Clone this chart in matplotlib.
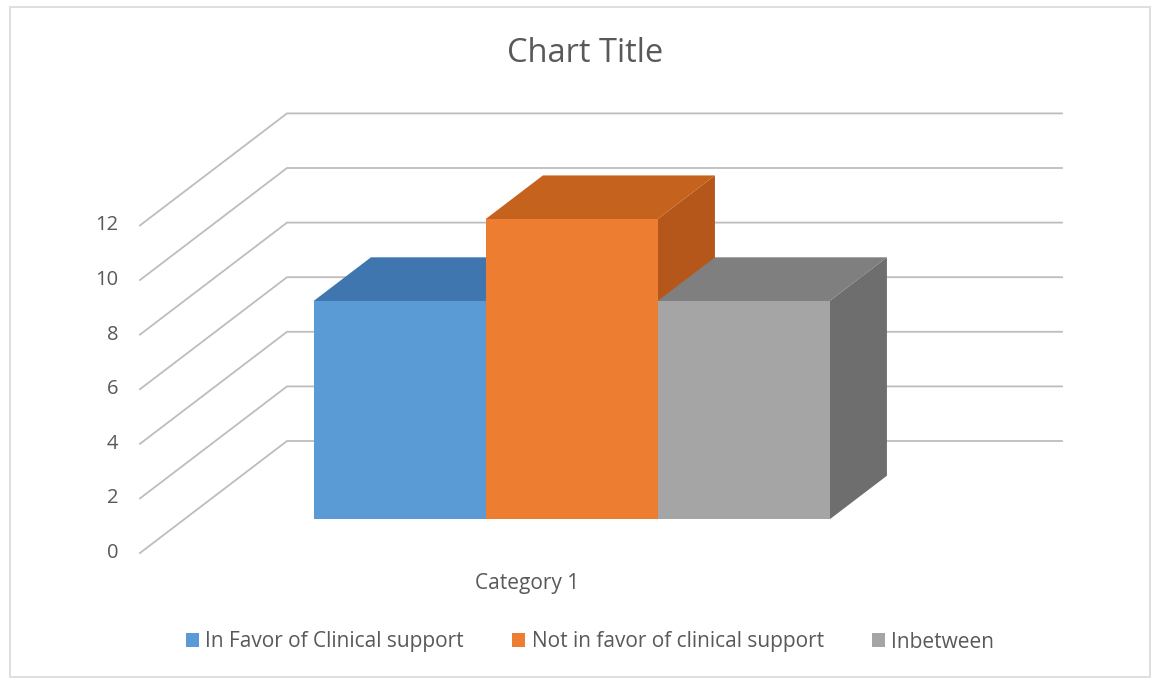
import matplotlib.pyplot as plt
from matplotlib.patches import Polygon, Rectangle, Patch

# chart data
title = "Chart Title"
category = "Category 1"
series = ["In Favor of Clinical support", "Not in favor of clinical support", "Inbetween"]
values = [8, 11, 8]
y_ticks = [0, 2, 4, 6, 8, 10, 12]

front_colors = ["#5B9BD5", "#ED7D31", "#A5A5A5"]
top_colors = ["#3F76B0", "#C5621D", "#7F7F7F"]
side_colors = ["#35679D", "#B5561A", "#6E6E6E"]
text_color = "#595959"
grid_color = "#BDBDBD"

plt.rcParams['font.family'] = ['Open Sans', 'DejaVu Sans']

# oblique projection of the 3d column chart (units are pixels)
X0, Y0 = 140, 553          # front end of the value axis at 0
UNIT = 27.3                # pixels per value unit
DEPTH = (147, -112)        # shift from front to back wall
WALL_W = 775               # width of the back wall
BAR_W = 172
BAR_D0, BAR_D1 = 0.30, 0.69  # depth range of the columns


def proj(u, v, d):
    return (X0 + u + DEPTH[0] * d, Y0 - UNIT * v + DEPTH[1] * d)


fig = plt.figure(figsize=(11.57, 6.79), dpi=100)
ax = fig.add_axes([0, 0, 1, 1])
ax.set_xlim(0, 1157)
ax.set_ylim(679, 0)
ax.axis('off')

# chart border
ax.add_patch(Rectangle((10, 7), 1140, 670, fill=False, ec="#D9D9D9", lw=1.2))

# side wall + back wall gridlines
for t in y_ticks:
    pts = [proj(0, t, 0), proj(0, t, 1), proj(WALL_W, t, 1)]
    ax.plot([p[0] for p in pts], [p[1] for p in pts], color=grid_color, lw=1.3, zorder=1,
            solid_joinstyle='miter')
    x, y = proj(0, t, 0)
    ax.text(x - 22, y, str(t), ha='right', va='center', fontsize=14.5, color=text_color)

# columns, drawn left to right so the later ones hide the earlier sides
u0 = (WALL_W - len(values) * BAR_W) / 2
for i, v in enumerate(values):
    ul = u0 + i * BAR_W
    ur = ul + BAR_W
    side = [proj(ur, 0, BAR_D0), proj(ur, 0, BAR_D1), proj(ur, v, BAR_D1), proj(ur, v, BAR_D0)]
    top = [proj(ul, v, BAR_D0), proj(ur, v, BAR_D0), proj(ur, v, BAR_D1), proj(ul, v, BAR_D1)]
    front = [proj(ul, 0, BAR_D0), proj(ur, 0, BAR_D0), proj(ur, v, BAR_D0), proj(ul, v, BAR_D0)]
    ax.add_patch(Polygon(side, closed=True, fc=side_colors[i], ec='none', zorder=3))
    ax.add_patch(Polygon(top, closed=True, fc=top_colors[i], ec='none', zorder=3))
    ax.add_patch(Polygon(front, closed=True, fc=front_colors[i], ec='none', zorder=3))

cx, cy = proj(WALL_W / 2, 0, 0)
ax.text(cx, cy + 31, category, ha='center', va='center', fontsize=15, color=text_color)

ax.text(585, 53, title, ha='center', va='center', fontsize=23.5, color=text_color)

handles = [Patch(fc=c, ec='none') for c in front_colors]
fig.legend(handles, series, loc='center', bbox_to_anchor=(590 / 1157, 1 - 642 / 679),
           ncol=3, frameon=False, fontsize=15, labelcolor=text_color,
           handlelength=0.65, handleheight=0.65, handletextpad=0.3, columnspacing=2.3)

fig.savefig("out.png", dpi=100)
